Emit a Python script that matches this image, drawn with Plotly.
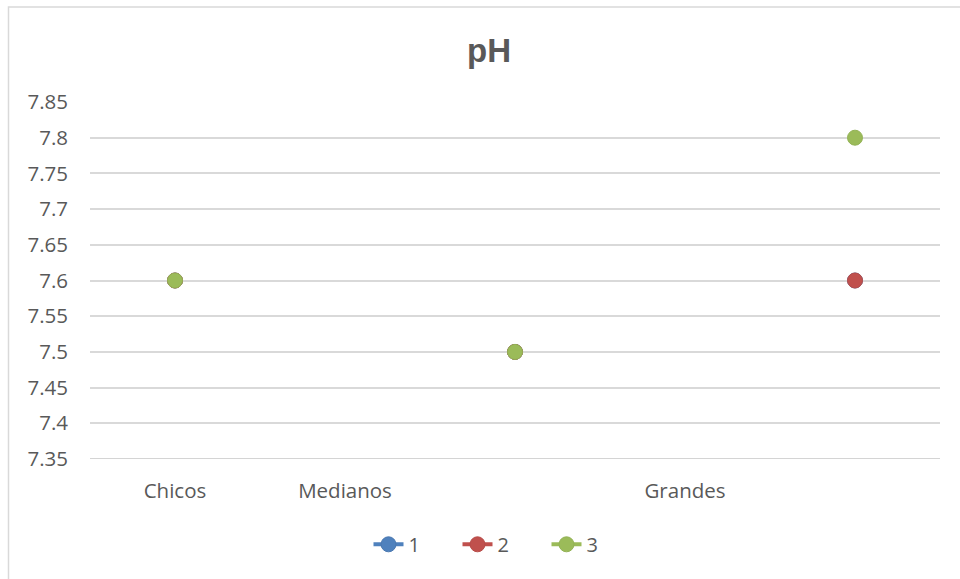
import plotly.graph_objects as go

categories = ["Chicos", "Medianos", "", "Grandes", ""]
series_names = ["1", "2", "3"]
serie_1 = [7.6, None, 7.5, None, 7.6]
serie_2 = [7.6, None, 7.5, None, 7.6]
serie_3 = [7.6, None, 7.5, None, 7.8]
y_ticks = [7.35, 7.4, 7.45, 7.5, 7.55, 7.6, 7.65, 7.7, 7.75, 7.8, 7.85]
y_tick_labels = ["7.35", "7.4", "7.45", "7.5", "7.55", "7.6", "7.65", "7.7", "7.75", "7.8", "7.85"]

colors = ["#4F81BD", "#C0504D", "#9BBB59"]
edges = ["#4A78B0", "#B84C49", "#93B255"]
xpos = list(range(len(categories)))

fig = go.Figure()
for name, vals, c, e in zip(series_names, [serie_1, serie_2, serie_3], colors, edges):
    fig.add_trace(go.Scatter(
        x=xpos, y=vals, name=name, mode="lines+markers",
        connectgaps=False,
        line=dict(color=c, width=4),
        marker=dict(color=c, size=15, line=dict(color=e, width=1)),
    ))

L, R, T, B = 90, 20, 101.7, 579 - 459.5
ph = 579 - T - B
fig.update_layout(
    width=960, height=579,
    margin=dict(l=L, r=R, t=T, b=B, autoexpand=False),
    paper_bgcolor="white", plot_bgcolor="white",
    title=dict(text="<b>pH</b>", x=489 / 960, xref="container", xanchor="center",
               y=1 - 50 / 579, yanchor="middle",
               font=dict(family="Liberation Sans, Arial", size=33, color="#595959")),
    xaxis=dict(range=[-0.5, 4.5], tickvals=xpos, ticktext=categories,
               showgrid=False, zeroline=False, showline=False, ticks="",
               ticklabelstandoff=17,
               tickfont=dict(family="Open Sans", size=20.5, color="#595959")),
    yaxis=dict(range=[y_ticks[0], y_ticks[-1]], tickvals=y_ticks, ticktext=y_tick_labels,
               showgrid=True, gridcolor="#D9D9D9", gridwidth=1.5,
               zeroline=False, showline=False, ticks="",
               ticklabelstandoff=21,
               tickfont=dict(family="Open Sans", size=20.5, color="#595959")),
    showlegend=True,
    legend=dict(orientation="h", x=(502 - L) / 850, xanchor="center",
                y=(459.5 - 545) / ph, yanchor="middle",
                font=dict(family="Open Sans", size=20, color="#595959"),
                entrywidth=44, entrywidthmode="pixels", tracegroupgap=0),
    shapes=[dict(type="rect", xref="paper", yref="paper",
                 x0=(8.5 - L) / 850, x1=1.1,
                 y0=(459.5 - 590) / ph, y1=(459.5 - 6.5) / ph,
                 line=dict(color="#D9D9D9", width=1.5), fillcolor="rgba(0,0,0,0)",
                 layer="below"),
            dict(type="line", xref="paper", yref="y",
                 x0=0, x1=1, y0=y_ticks[0], y1=y_ticks[0],
                 line=dict(color="#D4D4D4", width=2), layer="above")],
)

fig.write_html("out.html", config={"displayModeBar": False},
               post_script="document.body.style.margin='0';")
